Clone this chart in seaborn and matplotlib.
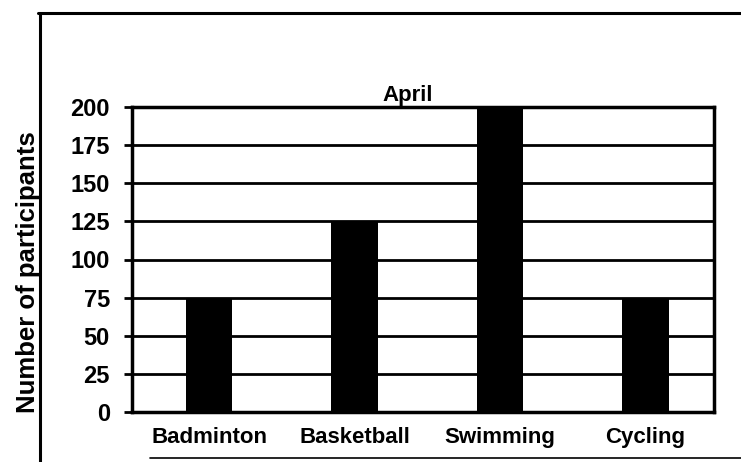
import matplotlib
matplotlib.use("Agg")
import matplotlib.pyplot as plt
from matplotlib.lines import Line2D
import seaborn as sns
import pandas as pd

sports = ["Badminton", "Basketball", "Swimming", "Cycling"]
participants = [75, 125, 200, 75]
y_ticks = [0, 25, 50, 75, 100, 125, 150, 175, 200]
title = "April"
y_label = "Number of participants"

sns.set_theme(style="white")
plt.rcParams["font.family"] = ["Liberation Sans", "DejaVu Sans"]

df = pd.DataFrame({"sport": sports, "participants": participants})

fig = plt.figure(figsize=(7.41, 4.62), dpi=100)
ax = fig.add_axes([132 / 741, 1 - 412 / 462, (714 - 132) / 741, (412 - 107) / 462])

sns.barplot(data=df, x="sport", y="participants", color="black",
            width=0.32, saturation=1, linewidth=0, ax=ax, zorder=3)

ax.set_ylim(0, 200)
ax.set_yticks(y_ticks)
ax.set_xlim(-0.53, len(sports) - 0.53)
ax.yaxis.grid(True, color="black", linewidth=2.0, zorder=1)
ax.set_axisbelow(True)
for s in ax.spines.values():
    s.set_color("black")
    s.set_linewidth(2.5)

ax.tick_params(axis="y", length=6, width=2, color="black", pad=10,
               labelsize=17, left=True)
ax.tick_params(axis="x", length=0, pad=11, labelsize=16)
for lbl in ax.get_yticklabels() + ax.get_xticklabels():
    lbl.set_fontweight("bold")
    lbl.set_color("black")

ax.set_xlabel("")
ax.set_ylabel("")
fig.text(28 / 741, 1 - 272 / 462, y_label, rotation=90, ha="center",
         va="center", fontsize=18.5, fontweight="bold", color="black")
fig.text(408 / 741, 1 - 95 / 462, title, ha="center", va="center",
         fontsize=16, fontweight="bold", color="black")

# outer chart frame
frame_kw = dict(color="black", linewidth=2.2, transform=fig.transFigure)
fig.add_artist(Line2D([40 / 741, 40 / 741], [0, 1 - 13 / 462], **frame_kw))
fig.add_artist(Line2D([38 / 741, 1], [1 - 13 / 462, 1 - 13 / 462], **frame_kw))
fig.add_artist(Line2D([150 / 741, 1], [1 - 458 / 462, 1 - 458 / 462],
                      color="black", linewidth=1.2, transform=fig.transFigure))

fig.savefig("out.png", dpi=100, facecolor="white")
